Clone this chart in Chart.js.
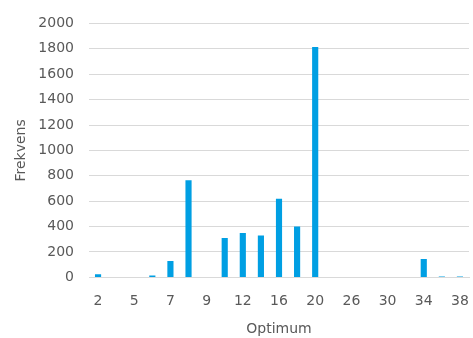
<!DOCTYPE html>
<html><head><meta charset="utf-8">
<script src="https://cdn.jsdelivr.net/npm/chart.js@4"></script>
<style>html,body{margin:0;padding:0;background:#fff}#w{width:473px;height:338px}</style>
</head><body><div id="w"><canvas id="c"></canvas></div>
<script>
const categories = ['2','4','5','6','7','8','9','10','12','14','16','18','20','24','26','28','30','32','34','36','38'];
const frequencies = [25,0,0,15,130,765,0,310,350,330,620,400,1815,0,0,0,0,0,145,8,8];
const yTicks = [0,200,400,600,800,1000,1200,1400,1600,1800,2000];
const font = {family:'DejaVu Sans', size:14};
new Chart(document.getElementById('c'), {
  type:'bar',
  data:{labels:categories, datasets:[{data:frequencies, backgroundColor:'#009fe3', barPercentage:0.34, categoryPercentage:1}]},
  options:{
    responsive:true, maintainAspectRatio:false, animation:false,
    layout:{padding:{left:9,right:0,top:11,bottom:0}},
    plugins:{legend:{display:false}, tooltip:{enabled:false}},
    scales:{
      x:{grid:{display:false}, border:{color:'#d9d9d9'},
         afterFit:s=>{s.paddingRight=4;},
         ticks:{color:'#595959', font, maxRotation:0, autoSkip:false, padding:8, callback:(v,i)=> i%2===0 ? categories[i] : ''},
         title:{display:true, text:'Optimum', color:'#595959', font, padding:{top:3,bottom:0}}},
      y:{min:0, max:2000, afterBuildTicks:a=>{a.ticks=yTicks.map(v=>({value:v}));},
         afterFit:s=>{s.width=80;},
         grid:{color:'#d9d9d9', lineWidth:1, drawTicks:false}, border:{display:false},
         ticks:{color:'#595959', font, padding:15, callback:v=>String(v)},
         title:{display:true, text:'Frekvens', color:'#595959', font}}
    }
  }
});
</script></body></html>
